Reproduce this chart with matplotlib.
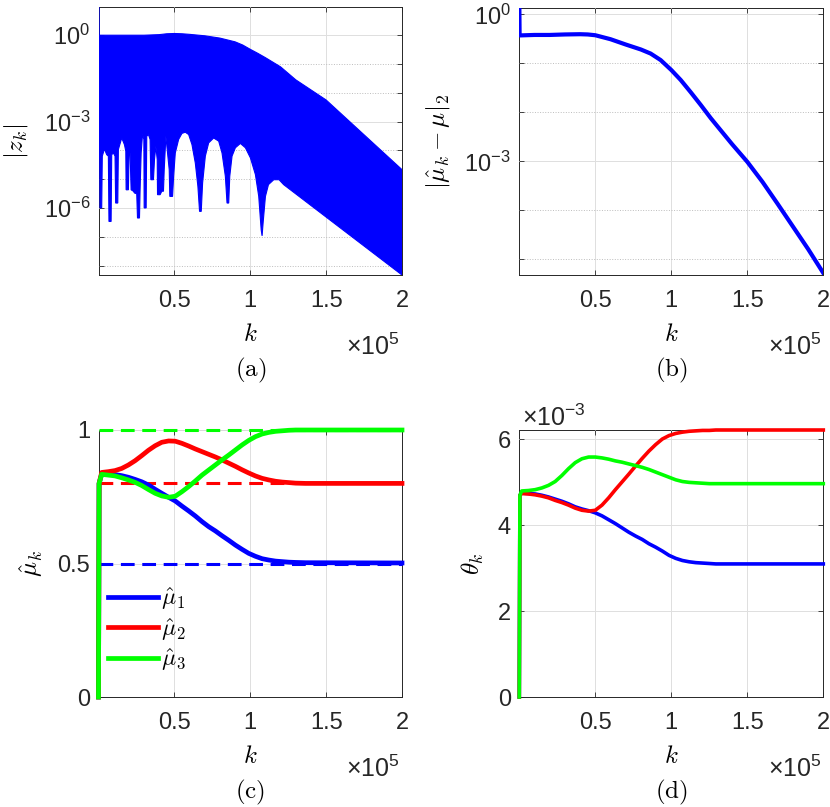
import numpy as np
import matplotlib
matplotlib.use('Agg')
import matplotlib.pyplot as plt
from matplotlib.ticker import FixedLocator, FuncFormatter, NullFormatter

plt.rcParams['font.family'] = ['Liberation Sans', 'DejaVu Sans']
plt.rcParams['mathtext.fontset'] = 'cm'

# k values below are in units of 1e5, as on the x axes

# (a) |z_k| : upper / lower edge of the oscillating band (log10)
za_top_k = [0, 0.003, 0.004, 0.1, 0.2, 0.3, 0.4, 0.45, 0.5, 0.55, 0.6, 0.7, 0.8,
            0.9, 0.95, 1.0, 1.05, 1.1, 1.15, 1.2, 1.3, 1.5, 2.0]
za_top = [1.0, 1.0, 0.0, 0.0, 0.0, 0.0, 0.02, 0.05, 0.06, 0.05, 0.03, -0.02, -0.1,
          -0.23, -0.34, -0.49, -0.63, -0.78, -0.94, -1.1, -1.55, -2.25, -4.67]
za_bot_k = [0.0, 0.008, 0.010, 0.021, 0.025, 0.039, 0.054, 0.065, 0.069, 0.083, 0.087,
            0.098, 0.109, 0.113, 0.127, 0.131, 0.153, 0.171, 0.180, 0.182, 0.197,
            0.202, 0.208, 0.215, 0.230, 0.237, 0.252, 0.257, 0.270, 0.274, 0.281,
            0.290, 0.299, 0.301, 0.314, 0.318, 0.329, 0.340, 0.345, 0.362, 0.369,
            0.378, 0.387, 0.389, 0.406, 0.417, 0.428, 0.433, 0.444, 0.455, 0.466,
            0.470, 0.488, 0.495, 0.506, 0.528, 0.550, 0.572, 0.594, 0.616, 0.638,
            0.655, 0.666, 0.677, 0.686, 0.704, 0.726, 0.759, 0.792, 0.814, 0.836,
            0.847, 0.858, 0.865, 0.880, 0.902, 0.935, 0.968, 1.001, 1.034, 1.056,
            1.072, 1.078, 1.085, 1.10, 1.12, 1.155, 1.19, 1.22, 2.0]
za_bot = [-4.26, -4.30, -6.00, -6.00, -4.20, -3.95, -4.15, -4.20, -6.47, -6.47, -4.15,
          -4.09, -4.20, -5.83, -5.83, -3.97, -3.57, -3.80, -4.03, -5.37, -5.37,
          -3.91, -4.09, -5.37, -5.42, -5.48, -5.51, -6.35, -6.35, -5.37, -4.09,
          -3.45, -3.62, -6.00, -6.00, -3.51, -3.45, -3.62, -5.02, -5.02, -4.32,
          -3.86, -4.32, -5.54, -5.54, -5.42, -5.42, -4.67, -3.51, -4.09, -4.67,
          -5.60, -5.60, -4.90, -4.09, -3.62, -3.41, -3.37, -3.45, -3.80, -4.44,
          -5.25, -6.12, -6.12, -5.13, -4.20, -3.74, -3.57, -3.68, -4.09, -4.90,
          -5.83, -5.83, -4.90, -4.20, -3.91, -3.76, -3.91, -4.26, -4.84, -5.60,
          -6.76, -6.97, -6.50, -5.60, -5.19, -5.02, -5.02, -5.19, -8.33]

# (b) |mu_hat_k - mu|_2 (log10)
err_k = [0, 0.002, 0.1, 0.2, 0.3, 0.4, 0.45, 0.5, 0.6, 0.7, 0.8, 0.864, 0.93, 1.0,
         1.062, 1.128, 1.194, 1.26, 1.326, 1.4, 1.5, 1.6, 1.7, 1.8, 1.9, 2.0]
err = [0.3, -0.43, -0.42, -0.42, -0.41, -0.405, -0.41, -0.426, -0.507, -0.615, -0.717,
       -0.80, -0.933, -1.136, -1.34, -1.59, -1.85, -2.12, -2.37, -2.65, -3.01, -3.42,
       -3.87, -4.33, -4.79, -5.28]

# (c) estimates mu_hat_1..3 and true values (dashed)
mu_true = [0.5, 0.8, 1.0]
c_k = [0.021, 0.065, 0.109, 0.153, 0.197, 0.241, 0.285, 0.329, 0.373, 0.417,
       0.462, 0.506, 0.55, 0.594, 0.638, 0.682, 0.726, 0.77, 0.814, 0.858, 0.902,
       0.946, 0.99, 1.034, 1.078, 1.122, 1.167, 1.211, 1.255, 1.299, 1.365, 2.0]
mu1 = [0.835, 0.834, 0.833, 0.829, 0.823, 0.815, 0.806, 0.794, 0.778, 0.763,
       0.748, 0.734, 0.715, 0.697, 0.678, 0.657, 0.638, 0.622, 0.604, 0.587, 0.569,
       0.553, 0.538, 0.527, 0.518, 0.513, 0.509, 0.507, 0.505, 0.504, 0.503, 0.502]
mu2 = [0.841, 0.844, 0.848, 0.856, 0.869, 0.885, 0.904, 0.924, 0.941, 0.954,
       0.959, 0.958, 0.950, 0.940, 0.929, 0.919, 0.909, 0.899, 0.888, 0.876, 0.864,
       0.851, 0.839, 0.828, 0.819, 0.813, 0.808, 0.805, 0.803, 0.801, 0.800, 0.800]
mu3 = [0.834, 0.831, 0.828, 0.821, 0.813, 0.804, 0.792, 0.777, 0.763, 0.753,
       0.748, 0.752, 0.769, 0.788, 0.809, 0.831, 0.850, 0.869, 0.888, 0.906, 0.925,
       0.944, 0.961, 0.975, 0.985, 0.991, 0.995, 0.997, 0.999, 1.0, 1.0, 1.0]

# (d) theta_k, units of 1e-3
d_k = [0.016, 0.06, 0.104, 0.148, 0.192, 0.236, 0.28, 0.324, 0.368, 0.412, 0.456,
       0.5, 0.544, 0.588, 0.632, 0.676, 0.72, 0.765, 0.809, 0.853, 0.897, 0.941,
       0.985, 1.029, 1.073, 1.117, 1.161, 1.206, 1.25, 1.293, 1.36, 2.0]
th1 = [4.75, 4.74, 4.73, 4.70, 4.66, 4.61, 4.56, 4.50, 4.43, 4.38, 4.34,
       4.29, 4.22, 4.13, 4.04, 3.94, 3.84, 3.75, 3.67, 3.57, 3.49, 3.40,
       3.30, 3.23, 3.18, 3.15, 3.13, 3.12, 3.11, 3.10, 3.10, 3.10]
th2 = [4.74, 4.73, 4.71, 4.68, 4.64, 4.58, 4.53, 4.47, 4.40, 4.35, 4.33,
       4.35, 4.47, 4.64, 4.83, 5.01, 5.19, 5.38, 5.56, 5.73, 5.88, 6.01,
       6.09, 6.14, 6.17, 6.19, 6.20, 6.21, 6.21, 6.22, 6.22, 6.22]
th3 = [4.80, 4.81, 4.83, 4.87, 4.93, 5.02, 5.16, 5.32, 5.46, 5.55, 5.59,
       5.59, 5.57, 5.54, 5.50, 5.47, 5.43, 5.39, 5.35, 5.30, 5.24, 5.18,
       5.12, 5.06, 5.02, 5.00, 4.99, 4.98, 4.97, 4.97, 4.97, 4.97]
start_mu = [0, 0.80]     # vertical jump at k = 0
start_th = [0, 4.70]

blue, red, green = '#0000ff', '#ff0000', '#00ff00'
grey = '#262626'

W, H = 830, 807
fig = plt.figure(figsize=(W / 100, H / 100), dpi=100)


def add_ax(l, t, r, b):
    # axes placed by pixel box (left, top, right, bottom)
    return fig.add_axes([l / W, 1 - b / H, (r - l) / W, (b - t) / H])


def style(ax, name, ylab, ylab_x, log=False):
    ax.set_xlim(0, 2e5)
    ax.set_xticks([0.5e5, 1e5, 1.5e5, 2e5])
    ax.xaxis.set_major_formatter(FuncFormatter(lambda v, p: '%g' % (v / 1e5)))
    ax.tick_params(which='both', direction='in', top=True, right=True, length=3.5,
                   width=0.6, color=grey, labelcolor=grey, labelsize=17)
    ax.tick_params(axis='x', pad=11)
    ax.tick_params(axis='y', pad=6)
    for s in ax.spines.values():
        s.set_color(grey)
        s.set_linewidth(0.7)
        s.set_zorder(0.5)
    ax.grid(True, which='major', color='#dfdfdf', lw=0.7)
    if log:
        ax.grid(True, which='minor', color='#bdbdbd', lw=0.7, ls=':')
    ax.set_axisbelow(True)
    hh = ax.get_position().height * H
    ax.text(0.5, -66 / hh, '$k$', transform=ax.transAxes, ha='center',
            va='baseline', fontsize=18)
    ax.text(0.993, -80 / hh, '×$\\mathregular{10^{5}}$', transform=ax.transAxes,
            ha='right', va='baseline', fontsize=18, color=grey)
    ax.text(0.5, -101 / hh, name, transform=ax.transAxes, ha='center',
            va='baseline', fontsize=18)
    ax.text(ylab_x, 0.5, ylab, transform=ax.transAxes, ha='center', va='center',
            rotation=90, fontsize=18)


def log_fmt(v, p):
    return '$\\mathregular{10^{%d}}$' % round(np.log10(v))


# ---- (a)
ax = add_ax(98.5, 7, 402, 275)
kx = np.concatenate([np.array(za_top_k), np.array(za_bot_k)[::-1]]) * 1e5
ky = 10.0 ** np.concatenate([np.array(za_top), np.array(za_bot)[::-1]])
ax.fill(kx, ky, color=blue, lw=0.8)
ax.set_yscale('log')
ax.set_ylim(10 ** -8.33, 10 ** 0.98)
ax.yaxis.set_major_locator(FixedLocator([1e-6, 1e-3, 1e0]))
ax.yaxis.set_minor_locator(FixedLocator([1e-8, 1e-7, 1e-5, 1e-4, 1e-2, 1e-1]))
ax.yaxis.set_major_formatter(FuncFormatter(log_fmt))
ax.yaxis.set_minor_formatter(NullFormatter())
style(ax, '$\\mathrm{(a)}$', '$|z_k|$', -0.272, log=True)

# ---- (b)
ax = add_ax(519.3, 8, 823.3, 275)
ax.plot(np.array(err_k) * 1e5, 10.0 ** np.array(err), color=blue, lw=3)
ax.set_yscale('log')
ax.set_ylim(10 ** -5.32, 10 ** 0.13)
ax.yaxis.set_major_locator(FixedLocator([1e-3, 1e0]))
ax.yaxis.set_minor_locator(FixedLocator([1e-5, 1e-4, 1e-2, 1e-1]))
ax.yaxis.set_major_formatter(FuncFormatter(log_fmt))
ax.yaxis.set_minor_formatter(NullFormatter())
style(ax, '$\\mathrm{(b)}$', '$|\\hat{\\mu}_k-\\mu|_2$', -0.267, log=True)

# ---- (c)
ax = add_ax(98.5, 430, 402, 697)
for m, c in zip(mu_true, [blue, red, green]):
    ax.plot([0, 2e5], [m, m], color=c, lw=2.2, ls=(0, (4.5, 2.5)), clip_on=False)
kc = np.concatenate([[0, 0.004], c_k]) * 1e5
for vv, c, lab in [(mu1, blue, '$\\hat{\\mu}_1$'), (mu2, red, '$\\hat{\\mu}_2$'),
                   (mu3, green, '$\\hat{\\mu}_3$')]:
    ax.plot(kc, start_mu + vv, color=c, lw=3.4, label=lab, clip_on=False)
ax.set_ylim(0, 1)
ax.set_yticks([0, 0.5, 1])
ax.yaxis.set_major_formatter(FuncFormatter(lambda v, p: '%g' % v))
style(ax, '$\\mathrm{(c)}$', '$\\hat{\\mu}_k$', -0.222)
ax.legend(loc='upper left', bbox_to_anchor=(-0.023, 0.481), frameon=False,
          fontsize=17, handlelength=2.1, handletextpad=0.15, labelspacing=0.17,
          borderpad=0.2)

# ---- (d)
ax = add_ax(519.3, 430, 823.3, 697)
kd = np.concatenate([[0, 0.004], d_k]) * 1e5
for vv, c in [(th1, blue), (th2, red), (th3, green)]:
    ax.plot(kd, np.array(start_th + vv) * 1e-3, color=c, lw=2.6, clip_on=False)
ax.set_ylim(0, 6.22e-3)
ax.set_yticks([0, 2e-3, 4e-3, 6e-3])
ax.yaxis.set_major_formatter(FuncFormatter(lambda v, p: '%g' % round(v * 1e3, 6)))
style(ax, '$\\mathrm{(d)}$', '$\\theta_k$', -0.152)
ax.text(0.009, 1 + 4 / 267, '×$\\mathregular{10^{-3}}$', transform=ax.transAxes,
        ha='left', va='baseline', fontsize=18, color=grey)

fig.savefig('out.png', dpi=100)
